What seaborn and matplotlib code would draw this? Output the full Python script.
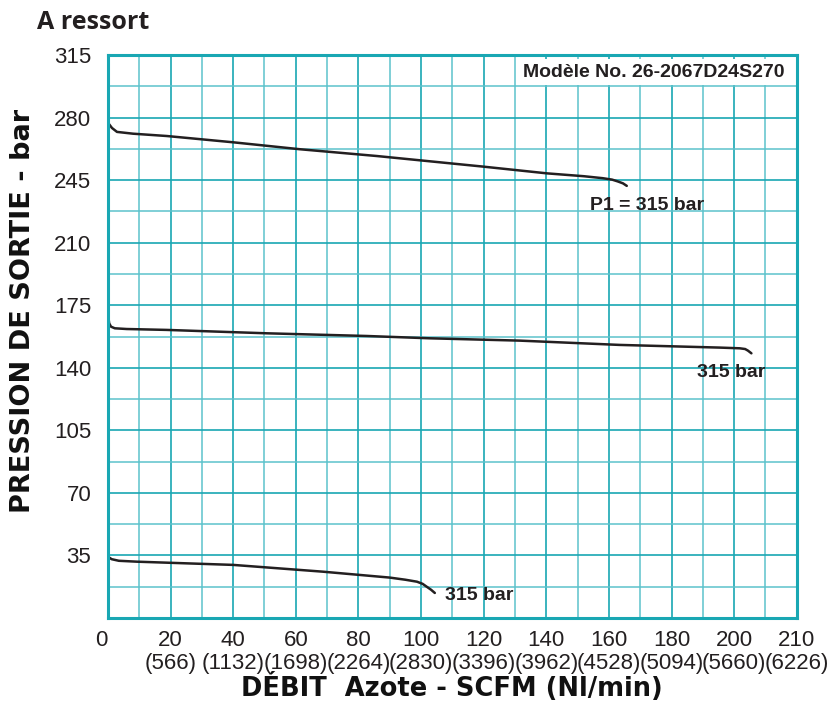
import matplotlib
matplotlib.use("Agg")
import matplotlib.pyplot as plt
import seaborn as sns
import pandas as pd
import numpy as np

# curve data (flow in SCFM, outlet pressure in bar)
top_x = [0, 0.3, 1.3, 2.9, 8, 18.8, 39.9, 61.3, 85.9, 119.7, 140.2, 152, 158.0, 161, 162.8, 164.5, 165.7]
top_y = [279.8, 276.5, 274.2, 272.0, 271.0, 269.7, 266.2, 262.3, 258.5, 252.6, 248.8, 247.2, 246.1, 245.3, 244.3, 243.2, 241.8]

mid_x = [0, 0.1, 0.4, 1.0, 2.2, 6, 18.7, 50.7, 82.6, 102.8, 131.5, 163.4, 195.4, 201.8, 203.5, 204.4, 205.5]
mid_y = [174.2, 169, 164.9, 163.0, 162.1, 161.7, 161.2, 159.3, 157.8, 156.5, 155.2, 152.8, 151.3, 150.9, 150.5, 149.6, 148.1]

low_x = [0, 1.2, 3.5, 9.3, 40, 68.7, 90, 95, 98.7, 100.5, 101.8, 103.2, 104.4]
low_y = [34.3, 32.9, 32.0, 31.5, 29.7, 25.9, 22.6, 21.4, 20.3, 19.1, 17.5, 15.8, 14.0]

x_ticks = [0, 20, 40, 60, 80, 100, 120, 140, 160, 180, 200, 220]
x_labels = ["0", "20\n(566)", "40\n(1132)", "60\n(1698)", "80\n(2264)", "100\n(2830)",
            "120\n(3396)", "140\n(3962)", "160\n(4528)", "180\n(5094)", "200\n(5660)",
            "210\n(6226)"]
y_ticks = [35, 70, 105, 140, 175, 210, 245, 280, 315]

grid_c = "#19a7b3"
line_c = "#231f20"

sns.set_style("white")
plt.rcParams['font.family'] = ['Liberation Sans', 'DejaVu Sans']

fig = plt.figure(figsize=(8.3, 7.15), dpi=100)
ax = fig.add_axes([0.130, 0.1357, 0.830, 0.7873])

for xs, ys in [(top_x, top_y), (mid_x, mid_y), (low_x, low_y)]:
    df = pd.DataFrame({"x": xs, "y": ys})
    sns.lineplot(data=df, x="x", y="y", sort=False, color=line_c, linewidth=1.8,
                 ax=ax, legend=False)

ax.set_xlim(0, 220)
ax.set_ylim(0, 315)
ax.set_xticks(x_ticks)
ax.set_xticklabels(x_labels, fontsize=16, color="#231f20", linespacing=1.1)
ax.set_xticks(np.arange(10, 220, 20), minor=True)
ax.set_yticks(y_ticks)
ax.set_yticklabels([str(v) for v in y_ticks], fontsize=16, color="#231f20")
ax.set_yticks(np.arange(17.5, 315, 35), minor=True)
ax.tick_params(which="both", length=0)
ax.tick_params(axis="x", pad=9)
ax.tick_params(axis="y", pad=12)
ax.get_xticklabels()[0].set_horizontalalignment("right")
ax.grid(True, which="major", color=grid_c, linewidth=1.2)
ax.grid(True, which="minor", color="#5cc2cb", linewidth=1.1)
for s in ax.spines.values():
    s.set_color(grid_c)
    s.set_linewidth(2.2)

ax.set_xlabel("")
ax.set_ylabel("")

# annotations
ax.text(216, 305.5, "Modèle No. 26-2067D24S270", ha="right", va="center",
        fontsize=14, fontweight="bold", color="#231f20", zorder=2,
        bbox=dict(facecolor="white", edgecolor="none", pad=3))
ax.text(154, 231, "P1 = 315 bar", ha="left", va="center", fontsize=14,
        fontweight="bold", color="#231f20")
ax.text(188, 137.5, "315 bar", ha="left", va="center", fontsize=14,
        fontweight="bold", color="#231f20")
ax.text(107.5, 12.5, "315 bar", ha="left", va="center", fontsize=14,
        fontweight="bold", color="#231f20")

fig.text(0.045, 0.968, "A ressort", ha="left", va="center", fontsize=18,
         fontweight="bold", family=["Open Sans", "DejaVu Sans"], color="#231f20")
fig.text(0.028, 0.565, "PRESSION DE SORTIE - bar", rotation=90, ha="center",
         va="center", fontsize=19.5, fontweight="bold",
         family=["DejaVu Sans"], color="#111111")
fig.text(0.545, 0.038, "DÉBIT  Azote - SCFM (Nl/min)", ha="center", va="center",
         fontsize=18.5, fontweight="bold", family=["DejaVu Sans"], color="#111111")

fig.savefig("out.png", dpi=100)
